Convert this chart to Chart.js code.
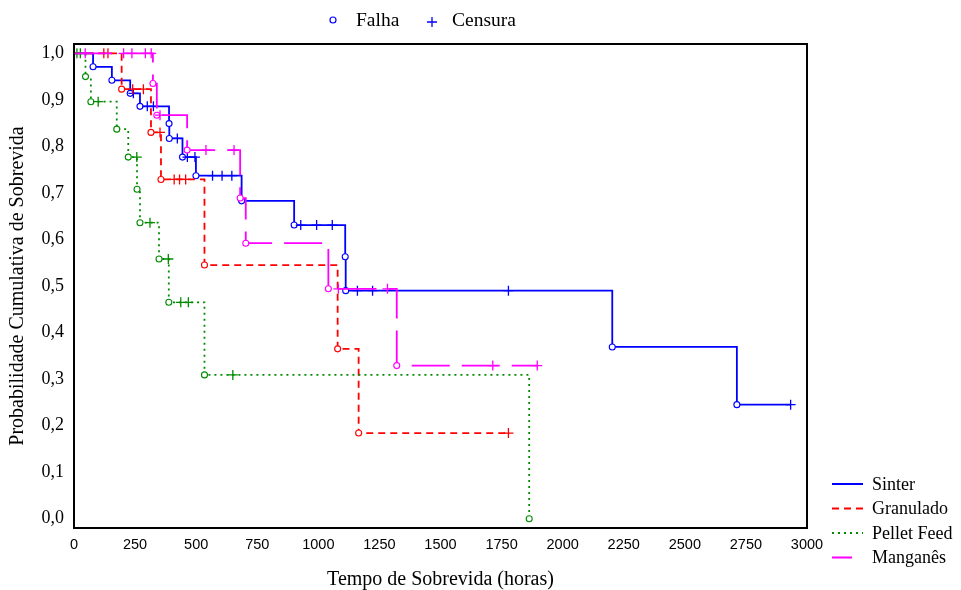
<!DOCTYPE html>
<html lang="pt">
<head>
<meta charset="utf-8">
<title>Curvas de Sobrevida</title>
<script src="https://cdn.jsdelivr.net/npm/chart.js"></script>
<style>
    html, body { margin: 0; padding: 0; background: #fff; }
    .grafico { width: 961px; height: 590px; }
</style>
</head>
<body>
<div class="grafico"><canvas id="sobrevida"></canvas></div>
<script>
    // eixos
    const xTicks = [0, 250, 500, 750, 1000, 1250, 1500, 1750, 2000, 2250, 2500, 2750, 3000];
    const yTicks = [0, 0.1, 0.2, 0.3, 0.4, 0.5, 0.6, 0.7, 0.8, 0.9, 1.0];

    // Sinter: falhas (tempo, sobrevida depois da falha) e censuras (tempo)
    const sinterFalhaT = [78, 155, 230, 270, 389, 390, 444, 499, 686, 901, 1110, 1112, 2203, 2713];
    const sinterFalhaS = [0.971, 0.942, 0.914, 0.886, 0.849, 0.817, 0.777, 0.737, 0.683, 0.631, 0.563, 0.490, 0.369, 0.245];
    const sinterCensT = [243, 300, 325, 423, 464, 495, 567, 606, 646, 928, 993, 1057, 1160, 1222, 1778, 2933];

    // Granulado
    const granFalhaT = [195, 315, 356, 534, 1079, 1165];
    const granFalhaS = [0.923, 0.830, 0.729, 0.545, 0.365, 0.184];
    const granCensT = [122, 139, 240, 284, 352, 410, 432, 457, 1778];

    // Pellet Feed
    const pelletFalhaT = [47, 69, 175, 222, 258, 270, 348, 388, 534, 1863];
    const pelletFalhaS = [0.950, 0.896, 0.837, 0.777, 0.708, 0.636, 0.558, 0.465, 0.309, 0.0];
    const pelletCensT = [12, 26, 99, 257, 311, 386, 437, 468, 650];

    // Manganês
    const mangFalhaT = [323, 339, 463, 680, 703, 1041, 1321];
    const mangFalhaS = [0.935, 0.867, 0.792, 0.689, 0.592, 0.494, 0.329];
    const mangCensT = [46, 203, 237, 292, 316, 352, 540, 655, 1082, 1283, 1714, 1896];

    const grupos = [
        { nome: 'Sinter', cor: 'rgb(0, 0, 255)', traco: [], T: sinterFalhaT, S: sinterFalhaS, C: sinterCensT },
        { nome: 'Granulado', cor: 'rgb(255, 0, 0)', traco: [7, 5], T: granFalhaT, S: granFalhaS, C: granCensT },
        { nome: 'Pellet Feed', cor: 'rgb(0, 140, 0)', traco: [2, 4], T: pelletFalhaT, S: pelletFalhaS, C: pelletCensT },
        { nome: 'Manganês', cor: 'rgb(255, 0, 255)', traco: [38, 12], T: mangFalhaT, S: mangFalhaS, C: mangCensT }
    ];

    // nivel da curva no tempo t (ultima falha ate t)
    function nivel(T, S, t) {
        let s = 1;
        T.forEach((tf, i) => { if (tf <= t) s = S[i]; });
        return s;
    }

    const datasets = [];
    grupos.forEach((g, i) => {
        const pontos = [{ x: 0, y: 1 }].concat(g.T.map((t, k) => ({ x: t, y: g.S[k] })));
        const fim = Math.max(...g.C);
        if (fim > g.T[g.T.length - 1]) pontos.push({ x: fim, y: g.S[g.S.length - 1] });
        const nFalhas = g.T.length;

        datasets.push({
            type: 'line',
            label: g.nome,
            data: pontos,
            showLine: true,
            stepped: 'before',
            fill: false,
            borderColor: g.cor,
            borderWidth: 1.8,
            borderDash: g.traco,
            pointStyle: 'circle',
            pointRadius: ctx => (ctx.dataIndex > 0 && ctx.dataIndex <= nFalhas ? 3 : 0),
            pointBorderColor: g.cor,
            pointBackgroundColor: '#fff',
            pointBorderWidth: 1.1,
            order: 8 - 2 * i
        });
        datasets.push({
            type: 'scatter',
            label: g.nome + ' censura',
            data: g.C.map(t => ({ x: t, y: nivel(g.T, g.S, t) })),
            showLine: false,
            pointStyle: 'cross',
            pointRadius: 5,
            pointBorderColor: g.cor,
            pointBorderWidth: 1.3,
            order: 7 - 2 * i
        });
    });

    const molduraELegendas = {
        id: 'molduraELegendas',
        afterDraw(chart) {
            const { ctx, chartArea: a } = chart;
            ctx.save();
            ctx.strokeStyle = '#000';
            ctx.lineWidth = 2;
            ctx.strokeRect(a.left, a.top, a.right - a.left, a.bottom - a.top);

            // legenda de cima
            ctx.fillStyle = '#000';
            ctx.textBaseline = 'middle';
            ctx.font = '19.5px "Liberation Serif"';
            ctx.strokeStyle = 'rgb(0, 0, 255)';
            ctx.lineWidth = 1.2;
            ctx.beginPath();
            ctx.arc(333, 20, 3, 0, Math.PI * 2);
            ctx.stroke();
            ctx.fillText('Falha', 356, 21);
            ctx.lineWidth = 1.3;
            ctx.beginPath();
            ctx.moveTo(427, 22); ctx.lineTo(437, 22);
            ctx.moveTo(432, 17); ctx.lineTo(432, 27);
            ctx.stroke();
            ctx.fillText('Censura', 452, 21);

            // legenda dos grupos
            ctx.font = '18px "Liberation Serif"';
            grupos.forEach((g, i) => {
                const y = 484 + i * 24.5;
                ctx.strokeStyle = g.cor;
                ctx.lineWidth = 2;
                ctx.setLineDash(g.traco);
                ctx.lineDashOffset = g.traco.length && g.traco[0] > 30 ? 18 : 0;
                ctx.beginPath();
                ctx.moveTo(832, y);
                ctx.lineTo(863, y);
                ctx.stroke();
                ctx.setLineDash([]);
                ctx.fillText(g.nome, 872, y + 1);
            });
            ctx.restore();
        }
    };

    new Chart(document.getElementById('sobrevida'), {
        type: 'scatter',
        data: { datasets: datasets },
        plugins: [molduraELegendas],
        options: {
            responsive: true,
            maintainAspectRatio: false,
            animation: false,
            layout: { padding: { top: 44, right: 154, bottom: 0, left: 0 } },
            plugins: {
                legend: { display: false },
                tooltip: { enabled: false }
            },
            scales: {
                x: {
                    type: 'linear',
                    min: 0,
                    max: 3000,
                    afterBuildTicks: s => { s.ticks = xTicks.map(v => ({ value: v })); },
                    afterFit: s => { s.height = 62; },
                    grid: { display: false, drawTicks: false },
                    border: { display: false },
                    ticks: {
                        autoSkip: false,
                        maxRotation: 0,
                        padding: 8,
                        color: '#000',
                        font: { family: 'Liberation Sans', size: 14.5 },
                        callback: v => String(v)
                    },
                    title: {
                        display: true,
                        text: 'Tempo de Sobrevida (horas)',
                        color: '#000',
                        font: { family: 'Liberation Serif', size: 20, lineHeight: 1 },
                        padding: { top: 0, bottom: 0 }
                    }
                },
                y: {
                    min: -0.02,
                    max: 1.02,
                    afterBuildTicks: s => { s.ticks = yTicks.map(v => ({ value: v })); },
                    afterFit: s => { s.width = 74; },
                    grid: { display: false, drawTicks: false },
                    border: { display: false },
                    ticks: {
                        padding: 10,
                        color: '#000',
                        font: { family: 'Liberation Serif', size: 18 },
                        callback: v => v.toFixed(1).replace('.', ',')
                    },
                    title: {
                        display: true,
                        text: 'Probabilidade Cumulativa de Sobrevida',
                        color: '#000',
                        font: { family: 'Liberation Serif', size: 20, lineHeight: 1 },
                        padding: { top: 8, bottom: 0 }
                    }
                }
            }
        }
    });
</script>
</body>
</html>
